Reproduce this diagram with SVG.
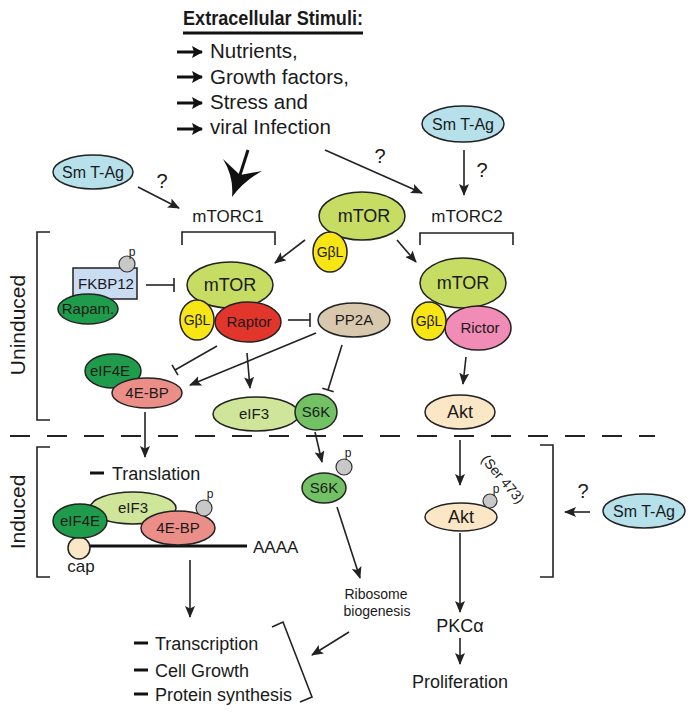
<svg xmlns="http://www.w3.org/2000/svg" width="693" height="716" viewBox="0 0 693 716">
<style>
.t{font-family:"Liberation Sans",Arial,Helvetica,sans-serif;fill:#1a1a1a}
.n{stroke:#222;stroke-width:1.5}
.ln{stroke:#222;stroke-width:1.6;fill:none}
.ar{stroke:#222;stroke-width:1.6;fill:none;marker-end:url(#ah)}
.pc{fill:#c8c8c8;stroke:#333;stroke-width:1.2}
.mtor{fill:#c6dc62}
.gbl{fill:#f7e614}
.dg{fill:#1f9c4b}
.bp{fill:#ec8e88}
.e3{fill:#cfe59a}
.s6k{fill:#72c265}
.akt{fill:#fbe6c6}
.sm{fill:#b6e0ea}
</style>
<defs>
<marker id="ah" markerUnits="userSpaceOnUse" markerWidth="12" markerHeight="10" refX="11" refY="5" orient="auto">
<path d="M0,0 L12,5 L0,10 L2.5,5 z" fill="#222"/>
</marker>
<marker id="bh" markerUnits="userSpaceOnUse" markerWidth="12" markerHeight="12" refX="10" refY="6" orient="auto">
<path d="M0,0 L11,6 L0,12 L2,6 z" fill="#111"/>
</marker>
</defs>

<g id="stimuli">
<text class="t" x="183" y="25" font-family="'Liberation Sans Narrow','Liberation Sans',sans-serif" font-weight="bold" font-size="20" textLength="180" lengthAdjust="spacingAndGlyphs">Extracellular Stimuli:</text>
<line x1="183" y1="33" x2="363" y2="33" stroke="#111" stroke-width="3"/>
<g stroke="#111" stroke-width="3" marker-end="url(#bh)">
<line x1="177" y1="52" x2="202" y2="52"/>
<line x1="177" y1="77" x2="202" y2="77"/>
<line x1="177" y1="103" x2="202" y2="103"/>
<line x1="177" y1="129" x2="202" y2="129"/>
</g>
<g class="t" font-size="20.5">
<text x="210" y="58">Nutrients,</text>
<text x="210" y="84">Growth factors,</text>
<text x="210" y="109">Stress and</text>
<text x="210" y="134">viral Infection</text>
</g>
</g>

<g id="labels">
<text class="t" x="228" y="222" font-size="17" text-anchor="middle">mTORC1</text>
<text class="t" x="467" y="222" font-size="17" text-anchor="middle">mTORC2</text>
<text class="t" x="162" y="188" font-size="20" text-anchor="middle">?</text>
<text class="t" x="380" y="163" font-size="20" text-anchor="middle">?</text>
<text class="t" x="482" y="177" font-size="20" text-anchor="middle">?</text>
<text class="t" x="583" y="498" font-size="20" text-anchor="middle">?</text>
<text class="t" transform="translate(25,325) rotate(-90)" font-size="21" text-anchor="middle">Uninduced</text>
<text class="t" transform="translate(25,512) rotate(-90)" font-size="21" text-anchor="middle">Induced</text>
</g>

<g id="connectors">
<line x1="248" y1="150" x2="239" y2="178" stroke="#111" stroke-width="3"/>
<path d="M232,197 Q234,177 223,159 L240,175 L262,171 Q244,181 232,197 z" fill="#111"/>
<line class="ar" x1="138" y1="187" x2="179" y2="208"/>
<line class="ar" x1="325" y1="150" x2="422" y2="193"/>
<line class="ar" x1="464" y1="150" x2="464" y2="195"/>
<path class="ln" d="M182,245 L182,232 L275,232 L275,245"/>
<path class="ln" d="M420,245 L420,233 L513,233 L513,245"/>
<path class="ln" d="M50,232 L37,232 L37,420 L50,420"/>
<path class="ln" d="M50,447 L37,447 L37,577 L50,577"/>
<path class="ln" d="M540,445 L553,445 L553,577 L540,577"/>
<line class="ar" x1="305" y1="240" x2="275" y2="263"/>
<line class="ar" x1="397" y1="240" x2="416" y2="262"/>
<line class="ln" x1="146" y1="285" x2="174" y2="285"/>
<line class="ln" x1="174" y1="278" x2="174" y2="292"/>
<line class="ln" x1="288" y1="320" x2="310" y2="320"/>
<line class="ln" x1="310" y1="313" x2="310" y2="327"/>
<line class="ln" x1="217" y1="346" x2="175" y2="370"/>
<line class="ln" x1="172" y1="364.8" x2="178" y2="375.2"/>
<line class="ar" x1="316" y1="333" x2="190" y2="385"/>
<line class="ar" x1="247" y1="353" x2="250" y2="388"/>
<line class="ln" x1="342" y1="345" x2="328" y2="390"/>
<line class="ln" x1="322.3" y1="388.2" x2="333.7" y2="391.8"/>
<line class="ar" x1="466" y1="357" x2="463" y2="384"/>
<line x1="10" y1="436" x2="655" y2="436" stroke="#222" stroke-width="2" stroke-dasharray="20 17"/>
<line class="ar" x1="145" y1="412" x2="145" y2="457"/>
<line class="ar" x1="315" y1="432" x2="322" y2="462"/>
<line class="ar" x1="460" y1="440" x2="460" y2="485"/>
<line class="ar" x1="337" y1="507" x2="360" y2="578"/>
<line class="ar" x1="190" y1="560" x2="190" y2="617"/>
<line class="ar" x1="460" y1="533" x2="460" y2="612"/>
<line class="ar" x1="460" y1="638" x2="460" y2="664"/>
<line class="ar" x1="349" y1="632" x2="312" y2="655"/>
<line class="ar" x1="590" y1="512" x2="565" y2="512"/>
<path class="ln" d="M272,627 L283,622 L312,697 L300,702"/>
<line x1="90" y1="546" x2="247" y2="546" stroke="#111" stroke-width="3"/>
</g>

<g id="smtag-left"><ellipse class="n sm" cx="93" cy="172" rx="40" ry="17"/><text class="t" x="93" y="178" font-size="16" text-anchor="middle">Sm T-Ag</text></g>
<g id="smtag-top"><ellipse class="n sm" cx="463" cy="124" rx="41" ry="18"/><text class="t" x="463" y="130" font-size="16" text-anchor="middle">Sm T-Ag</text></g>
<g id="smtag-right"><ellipse class="n sm" cx="644" cy="511" rx="41" ry="17"/><text class="t" x="644" y="517" font-size="16" text-anchor="middle">Sm T-Ag</text></g>

<g id="mtor-center">
<ellipse class="n mtor" cx="362" cy="216" rx="43" ry="24"/>
<text class="t" x="364" y="222" font-size="18" text-anchor="middle">mTOR</text>
<ellipse class="n gbl" cx="330" cy="252" rx="17" ry="20"/>
<text class="t" x="330" y="257" font-size="14" text-anchor="middle">GβL</text>
</g>

<g id="fkbp12">
<rect class="n" x="73" y="268" width="64" height="31" fill="#c9dcf2"/>
<text class="t" x="106" y="289" font-size="15" text-anchor="middle">FKBP12</text>
<circle class="pc" cx="127" cy="264" r="8"/>
<text class="t" x="132" y="256" font-size="12" text-anchor="middle">p</text>
</g>
<g id="rapam"><ellipse class="n dg" cx="88" cy="309" rx="30" ry="15"/><text class="t" x="88" y="314" font-size="15" text-anchor="middle">Rapam.</text></g>

<g id="mtorc1">
<ellipse class="n mtor" cx="230" cy="285" rx="43" ry="23"/>
<text class="t" x="230" y="291" font-size="18" text-anchor="middle">mTOR</text>
<ellipse class="n gbl" cx="197" cy="320" rx="17" ry="20"/>
<text class="t" x="197" y="325" font-size="14" text-anchor="middle">GβL</text>
<ellipse class="n" cx="248" cy="322" rx="33" ry="20" fill="#e2352b"/>
<text class="t" x="249" y="327" font-size="15" text-anchor="middle">Raptor</text>
</g>

<g id="pp2a"><ellipse class="n" cx="354" cy="320" rx="36" ry="17" fill="#d8c9ae"/><text class="t" x="354" y="325" font-size="15" text-anchor="middle">PP2A</text></g>

<g id="eif4e-4ebp">
<ellipse class="n dg" cx="113" cy="371" rx="28" ry="17"/>
<text class="t" x="110" y="376" font-size="15" text-anchor="middle">eIF4E</text>
<ellipse class="n bp" cx="147" cy="393" rx="35" ry="15"/>
<text class="t" x="147" y="398" font-size="15" text-anchor="middle">4E-BP</text>
</g>

<g id="eif3-s6k">
<ellipse class="n e3" cx="256" cy="414" rx="43" ry="17"/>
<text class="t" x="254" y="419" font-size="15" text-anchor="middle">eIF3</text>
<ellipse class="n s6k" cx="316" cy="412" rx="21" ry="18"/>
<text class="t" x="316" y="417" font-size="15" text-anchor="middle">S6K</text>
</g>

<g id="mtorc2">
<ellipse class="n mtor" cx="463" cy="283" rx="43" ry="25"/>
<text class="t" x="463" y="289" font-size="18" text-anchor="middle">mTOR</text>
<ellipse class="n" cx="478" cy="328" rx="33" ry="22" fill="#f08cb5"/>
<text class="t" x="480" y="333" font-size="15" text-anchor="middle">Rictor</text>
<ellipse class="n gbl" cx="429" cy="321" rx="17" ry="19"/>
<text class="t" x="429" y="326" font-size="14" text-anchor="middle">GβL</text>
</g>

<g id="akt-uninduced"><ellipse class="n akt" cx="460" cy="412" rx="35" ry="17"/><text class="t" x="460" y="418" font-size="18" text-anchor="middle">Akt</text></g>

<g id="translation">
<line x1="90" y1="473" x2="104" y2="473" stroke="#111" stroke-width="3"/>
<text class="t" x="112" y="480" font-size="18">Translation</text>
</g>

<g id="complex-induced">
<circle cx="79" cy="548" r="11" class="n akt"/>
<ellipse class="n e3" cx="133" cy="508" rx="43" ry="16"/>
<text class="t" x="133" y="513" font-size="15" text-anchor="middle">eIF3</text>
<ellipse class="n dg" cx="80" cy="521" rx="27" ry="17"/>
<text class="t" x="80" y="526" font-size="15" text-anchor="middle">eIF4E</text>
<ellipse class="n bp" cx="178" cy="528" rx="37" ry="17"/>
<text class="t" x="178" y="533" font-size="15" text-anchor="middle">4E-BP</text>
<circle class="pc" cx="204" cy="508" r="8"/>
<text class="t" x="210" y="498" font-size="12" text-anchor="middle">p</text>
<text class="t" x="81" y="572" font-size="17" text-anchor="middle">cap</text>
<text class="t" x="253" y="553" font-size="17">AAAA</text>
</g>

<g id="s6k-induced">
<ellipse class="n s6k" cx="324" cy="488" rx="22" ry="15"/>
<text class="t" x="324" y="493" font-size="15" text-anchor="middle">S6K</text>
<circle class="pc" cx="344" cy="467" r="8"/>
<text class="t" x="348" y="457" font-size="12" text-anchor="middle">p</text>
</g>

<g id="ribosome">
<text class="t" x="376" y="599" font-size="14" text-anchor="middle">Ribosome</text>
<text class="t" x="377" y="616" font-size="14" text-anchor="middle">biogenesis</text>
</g>

<g id="akt-induced">
<ellipse class="n akt" cx="461" cy="517" rx="36" ry="14"/>
<text class="t" x="461" y="523" font-size="18" text-anchor="middle">Akt</text>
<circle class="pc" cx="490" cy="501" r="7"/>
<text class="t" x="496" y="493" font-size="12" text-anchor="middle">p</text>
<text class="t" transform="translate(503,479) rotate(50)" font-size="14" text-anchor="middle" dy="5">(Ser 473)</text>
</g>

<g id="outcomes">
<line x1="134" y1="643" x2="148" y2="643" stroke="#111" stroke-width="3"/>
<text class="t" x="155" y="650" font-size="18">Transcription</text>
<line x1="134" y1="670" x2="148" y2="670" stroke="#111" stroke-width="3"/>
<text class="t" x="155" y="677" font-size="18">Cell Growth</text>
<line x1="134" y1="694" x2="148" y2="694" stroke="#111" stroke-width="3"/>
<text class="t" x="155" y="701" font-size="18">Protein synthesis</text>
</g>

<g id="pkca"><text class="t" x="460" y="632" font-size="18" text-anchor="middle">PKCα</text></g>
<g id="proliferation"><text class="t" x="460" y="688" font-size="18" text-anchor="middle">Proliferation</text></g>
</svg>
